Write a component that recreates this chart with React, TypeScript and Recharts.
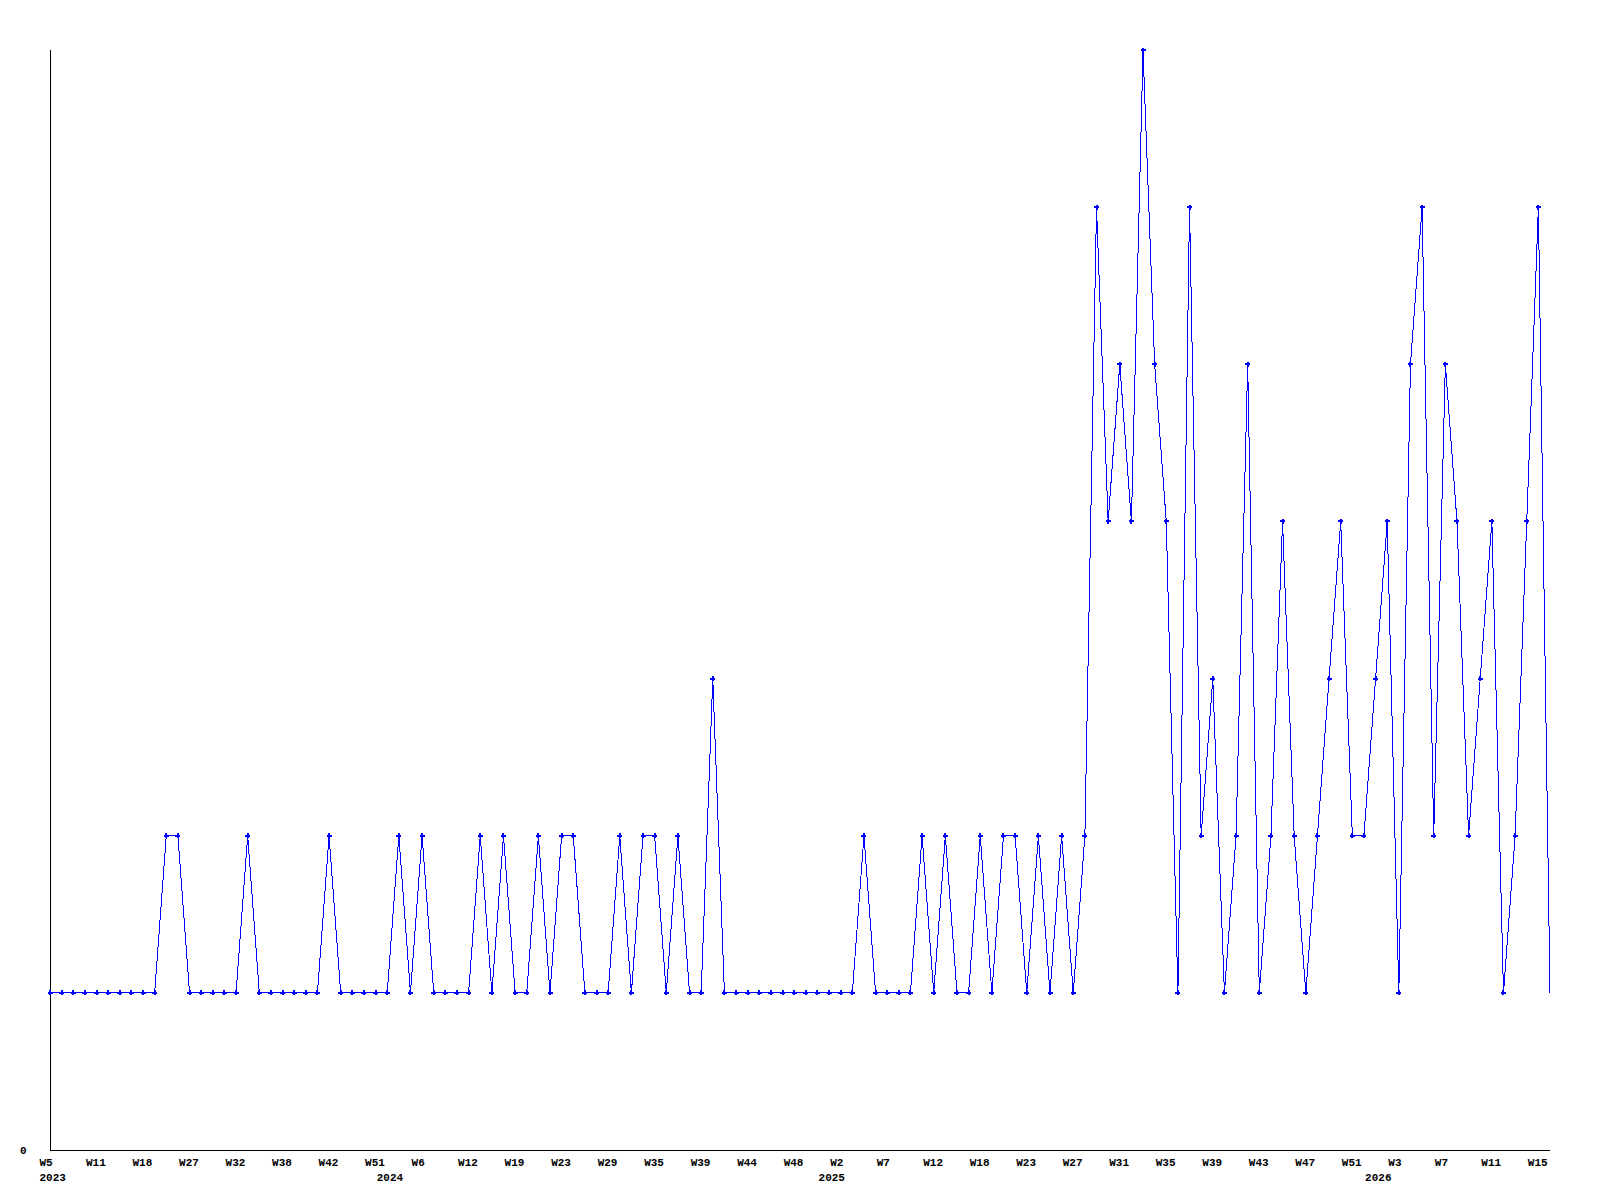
import React from 'react'
import { LineChart, Line, XAxis, YAxis } from 'recharts'

// ISO week numbers that have a data point, per year
const weeks2023 = [5, 6, 8, 9, 11, 13, 15, 16, 18, 20, 22, 25, 27, 28, 30, 31, 32, 34, 35, 37, 38, 39, 40, 41, 42, 44, 46, 49, 51]
const weeks2024 = [1, 3, 4, 6, 8, 9, 11, 12, 14, 16, 17, 19, 20, 21, 22, 23, 24, 26, 27, 29, 31, 32, 34, 35, 36, 37, 38, 39, 40, 41, 43, 44, 45, 46, 47, 48, 50, 52]
const weeks2025 = [1, 2, 3, 5, 6, 7, 8, 10, 11, 12, 14, 15, 16, 18, 19, 20, 22, 23, 24, 25, 26, 27, 28, 29, 30, 31, 32, 33, 34, 35, 36, 37, 38, 39, 40, 41, 42, 43, 44, 45, 46, 47, 48, 49, 50, 51, 52]
const weeks2026 = [1, 2, 3, 4, 5, 6, 7, 8, 9, 10, 11, 12, 13, 14, 15, 16]

const counts = [
  1, 1, 1, 1, 1, 1, 1, 1, 1, 1,
  2, 2, 1, 1, 1, 1, 1, 2, 1, 1,
  1, 1, 1, 1, 2, 1, 1, 1, 1, 1,
  2, 1, 2, 1, 1, 1, 1, 2, 1, 2,
  1, 1, 2, 1, 2, 2, 1, 1, 1, 2,
  1, 2, 2, 1, 2, 1, 1, 3, 1, 1,
  1, 1, 1, 1, 1, 1, 1, 1, 1, 1,
  2, 1, 1, 1, 1, 2, 1, 2, 1, 1,
  2, 1, 2, 2, 1, 2, 1, 2, 1, 2,
  6, 4, 5, 4, 7, 5, 4, 1, 6, 2,
  3, 1, 2, 5, 1, 2, 4, 2, 1, 2,
  3, 4, 2, 2, 3, 4, 1, 5, 6, 2,
  5, 4, 2, 3, 4, 1, 2, 4, 6, 1,
]

const yTicks = [0]

const yearWeeks: [string, number[]][] = [
  ['2023', weeks2023],
  ['2024', weeks2024],
  ['2025', weeks2025],
  ['2026', weeks2026],
]

const rows = yearWeeks
  .flatMap(([year, weeks]) => weeks.map((w) => ({ key: `${year}-W${w}`, year, week: `W${w}` })))
  .map((r, i) => ({ ...r, count: counts[i] }))

const BLUE = '#0000ff'
const labelStyle = {
  fontFamily: '"Liberation Mono", "DejaVu Sans Mono", monospace',
  fontWeight: 700,
  fontSize: 11,
  fill: '#000',
}

const WeekTick = (props: any) => {
  const { x, y } = props
  const index = props.index ?? props.payload?.index ?? 0
  const row = rows[index]
  if (!row) return <g />
  const showWeek = index % 4 === 0
  const showYear = index === 0 || rows[index - 1].year !== row.year
  return (
    <g>
      {showWeek && (
        <text x={x - 10.5} y={y + 16} style={labelStyle}>
          {row.week}
        </text>
      )}
      {showYear && (
        <text x={x - 10.5} y={y + 31} style={labelStyle}>
          {row.year}
        </text>
      )}
    </g>
  )
}

const CountTick = (props: any) => {
  const { x, y, payload } = props
  return (
    <text x={x - 30} y={y} dy="0.355em" style={labelStyle}>
      {payload.value}
    </text>
  )
}

const renderDot = (p: any) => {
  const { cx, cy, index } = p
  if (index === rows.length - 1 || cx == null) return <g key={`dot-${index}`} />
  return (
    <path
      key={`dot-${index}`}
      d={`M${cx - 2.5},${cy - 1}h5v2h-5zM${cx - 1},${cy - 2.5}h2v5h-2z`}
      fill={BLUE}
    />
  )
}

const App: React.FC = () => {
  return (
    <div style={{ position: 'absolute', left: 0, top: 0, background: '#fff', shapeRendering: 'crispEdges' }}>
      <LineChart width={1600} height={1200} data={rows} margin={{ top: 50, right: 50, bottom: 0, left: 0 }}>
        <XAxis
          dataKey="key"
          interval={0}
          height={50}
          tickLine={false}
          tickSize={0}
          tickMargin={0}
          axisLine={{ stroke: '#000' }}
          tick={(p: any) => <WeekTick {...p} />}
        />
        <YAxis
          type="number"
          domain={[0, 7]}
          ticks={yTicks}
          width={50}
          tickLine={false}
          tickSize={0}
          tickMargin={0}
          axisLine={{ stroke: '#000' }}
          tick={(p: any) => <CountTick {...p} />}
        />
        <Line
          type="linear"
          dataKey="count"
          stroke={BLUE}
          strokeWidth={1}
          dot={renderDot}
          activeDot={false}
          isAnimationActive={false}
        />
      </LineChart>
    </div>
  )
}

export default App
